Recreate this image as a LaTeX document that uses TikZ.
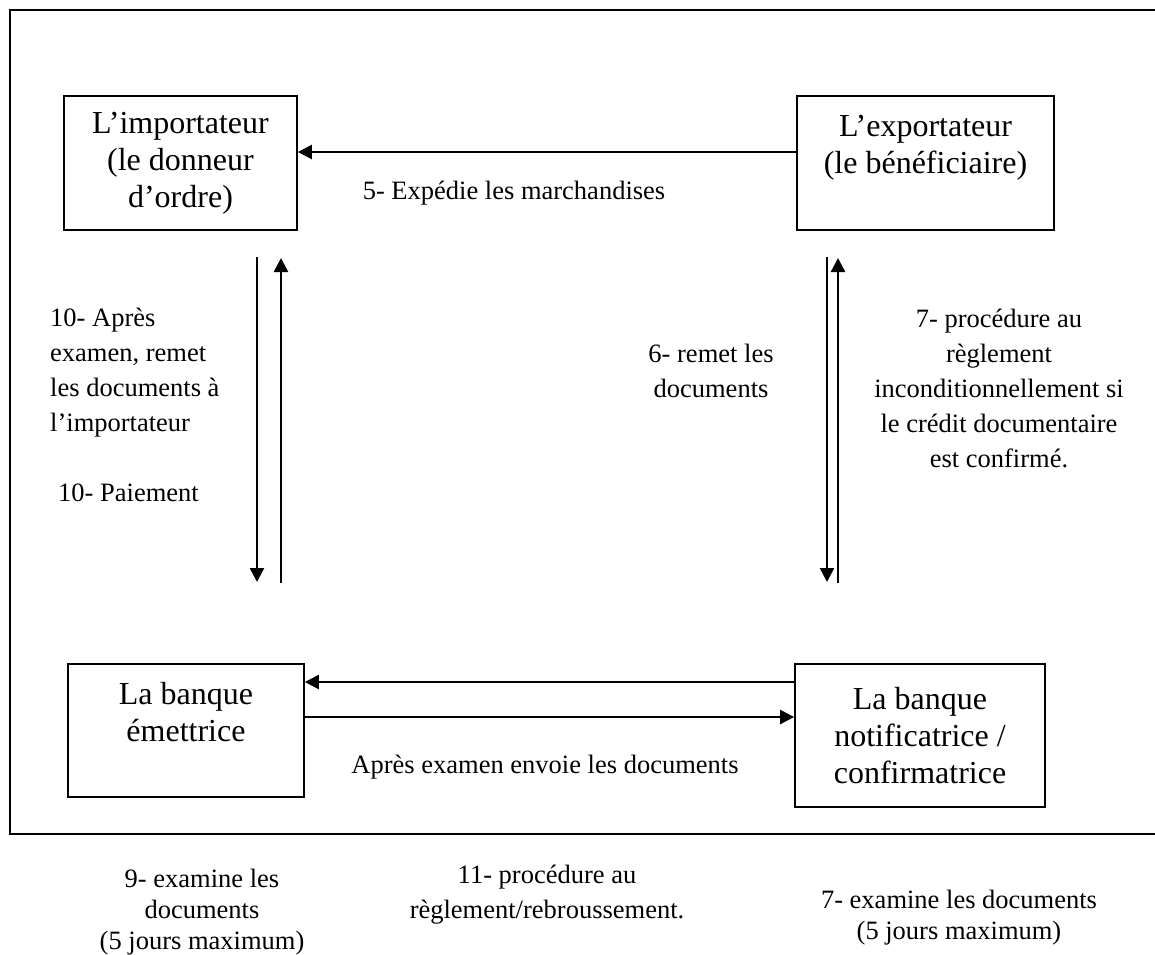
\documentclass[tikz,border=0pt]{standalone}
\usepackage{fontspec}
\setmainfont{Liberation Serif}
\usetikzlibrary{arrows.meta}
\begin{document}
\begin{tikzpicture}[x=1pt,y=-1pt,
  party/.style={draw, line width=1.8pt, inner sep=0pt, align=center,
    font=\fontsize{32}{37}\selectfont},
  lbl/.style={inner sep=0pt, font=\fontsize{26.5}{35}\selectfont},
  lblsmall/.style={inner sep=0pt, align=center, font=\fontsize{26.5}{31}\selectfont},
  arr/.style={line width=2.5pt, -{Triangle[length=14pt,width=14pt]}},
]
\useasboundingbox (0,0) rectangle (1155,954);

% outer frame, open on the right
\draw[line width=2pt] (1155,10) -- (10,10) -- (10,834) -- (1155,834);

% the four parties
\node[party, minimum width=233pt, minimum height=134pt] (imp) at (180.5,163)
  {L’importateur\\(le donneur\\d’ordre)};
\node[party, minimum width=257pt, minimum height=134pt] (exp) at (925.5,163)
  {L’exportateur\\(le bénéficiaire)\\~};
\node[party, minimum width=236pt, minimum height=133pt] (emet) at (186,730.5)
  {La banque\\émettrice\\~};
\node[party, minimum width=250pt, minimum height=143pt] (conf) at (920,735.5)
  {La banque\\notificatrice /\\confirmatrice};

% goods shipped
\draw[arr] ([yshift=11pt]exp.west) -- ([yshift=11pt]imp.east);

% vertical exchanges
\coordinate (ld1) at (257,257); \coordinate (ld2) at (257,582);
\coordinate (lu1) at (281,583); \coordinate (lu2) at (281,258);
\coordinate (rd1) at (827,257); \coordinate (rd2) at (827,582);
\coordinate (ru1) at (838,583); \coordinate (ru2) at (838,258);
\draw[arr] (ld1) -- (ld2);
\draw[arr] (lu1) -- (lu2);
\draw[arr] (rd1) -- (rd2);
\draw[arr] (ru1) -- (ru2);

% between the banks
\coordinate (hb1) at (0,682);
\coordinate (hb2) at (0,717);
\draw[arr] (conf.west |- hb1) -- (emet.east |- hb1);
\draw[arr] (emet.east |- hb2) -- (conf.west |- hb2);

% labels
\node[lbl] (l5) at (514,193) {5- Expédie les marchandises};
\node[lbl, align=left, anchor=west] (l10a) at (50,372.5)
  {10- Après\\examen, remet\\les documents à\\l’importateur};
\node[lbl, anchor=west] (l10b) at (58,493) {10- Paiement};
\node[lbl, align=center] (l6) at (711,370.5) {6- remet les\\documents};
\node[lbl, align=center] (l7) at (999,388)
  {7- procédure au\\règlement\\inconditionnellement si\\le crédit documentaire\\est confirmé.};
\node[lbl] (lenv) at (545,767) {Après examen envoie les documents};

% notes under the frame
\node[lblsmall] (l9) at (202,912) {9- examine les\\documents\\(5 jours maximum)};
\node[lblsmall, font=\fontsize{26.5}{35}\selectfont] (l11) at (547,894.5)
  {11- procédure au\\règlement/rebroussement.};
\node[lblsmall] (l7b) at (959,917.5) {7- examine les documents\\(5 jours maximum)};
\end{tikzpicture}
\end{document}
